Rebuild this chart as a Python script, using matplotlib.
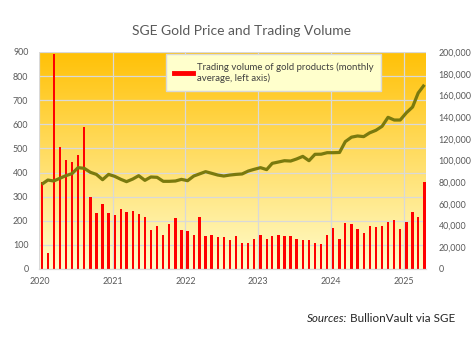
import numpy as np
import pandas as pd
import matplotlib
matplotlib.use('Agg')
import matplotlib.pyplot as plt
import matplotlib.dates as mdates
from matplotlib.colors import LinearSegmentedColormap
from matplotlib.lines import Line2D
from matplotlib.ticker import FuncFormatter

"""SGE gold price and monthly trading volume, 2020 onwards"""

plt.rcParams['font.family'] = ['Lato', 'DejaVu Sans']

# monthly volume of gold products (left axis), Jan 2020 - Apr 2025
volume_2020 = [362, 68, 890, 506, 452, 443, 473, 590, 297, 234, 271, 234]
volume_2021 = [223, 248, 237, 239, 227, 217, 162, 178, 140, 187, 210, 162]
volume_2022 = [158, 141, 214, 136, 140, 131, 131, 120, 138, 109, 109, 126]
volume_2023 = [141, 123, 136, 140, 137, 136, 123, 120, 120, 109, 104, 142]
volume_2024 = [169, 123, 191, 188, 165, 149, 177, 173, 177, 195, 203, 165]
volume_2025 = [195, 237, 214, 362]

# monthly gold price (right axis)
price_2020 = [78000, 82000, 81100, 83600, 86000, 87900, 93400, 92800, 89100, 87200, 82300, 87200]
price_2021 = [85400, 82600, 80500, 82900, 86000, 81700, 84800, 84500, 80800, 80800, 81100, 82600]
price_2022 = [81400, 85700, 87600, 89700, 88200, 86600, 85700, 86600, 87200, 87600, 90300, 91900]
price_2023 = [93400, 91600, 97400, 98600, 99800, 99500, 101400, 103800, 99800, 105700, 105800, 107200]
price_2024 = [107200, 107400, 117400, 121500, 122600, 122000, 125500, 127800, 131500, 139800, 137300, 137300]
price_2025 = [144000, 149300, 162200, 169800]

left_ticks = list(range(0, 1000, 100))
right_ticks = list(range(0, 220000, 20000))

TITLE = 'SGE Gold Price and Trading Volume'
LEGEND_LABEL = 'Trading volume of gold products (monthly\naverage, left axis)'

GREY_TEXT = '#595959'
GRID = '#D9D9D9'


def build_frame() -> pd.DataFrame:
    volume = volume_2020 + volume_2021 + volume_2022 + volume_2023 + volume_2024 + volume_2025
    price = price_2020 + price_2021 + price_2022 + price_2023 + price_2024 + price_2025
    dates = pd.date_range('2020-01-01', periods=len(volume), freq='MS') + pd.Timedelta(days=11)
    return pd.DataFrame({'date': dates, 'volume': volume, 'price': price})


def add_source(fig) -> None:
    # italic "Sources:" sits just left of the plain part
    body = fig.text(0.954, 0.056, 'BullionVault via SGE', ha='right', va='center',
                    fontsize=8.4, color='#262626')
    renderer = fig.canvas.get_renderer()
    left = body.get_window_extent(renderer).x0
    fig.text((left - 3) / fig.bbox.width, 0.056, 'Sources:', ha='right', va='center',
             fontsize=8.4, color='#262626', style='italic')


def plot_data(df: pd.DataFrame) -> None:
    fig = plt.figure(figsize=(4.77, 3.37), dpi=100)
    ax = fig.add_axes([0.0828, 0.2018, 0.8102, 0.6439])
    ax2 = ax.twinx()

    # orange to pale yellow wash behind the plot
    cmap = LinearSegmentedColormap.from_list('wash', ['#FFFCCB', '#FFC107'])
    grad = np.linspace(0, 1, 256).reshape(-1, 1)
    ax.imshow(grad, cmap=cmap, origin='lower', aspect='auto',
              extent=[0, 1, 0, 1], transform=ax.transAxes, zorder=0)

    ax.bar(df['date'], df['volume'], width=11.5, color='#FF0000', zorder=2)
    ax2.plot(df['date'], df['price'], color='#7A7A0E', lw=2.3, solid_capstyle='butt')

    x0, x1 = pd.Timestamp('2020-01-01'), pd.Timestamp('2025-04-20')
    ax.set_xlim(x0, x1)
    ax.set_ylim(0, 900)
    ax2.set_ylim(0, 200000)

    ax.set_yticks(left_ticks)
    ax2.set_yticks(right_ticks)
    ax2.yaxis.set_major_formatter(FuncFormatter(lambda v, p: f'{int(v):,}'))
    ax.xaxis.set_major_locator(mdates.YearLocator())
    ax.xaxis.set_major_formatter(mdates.DateFormatter('%Y'))

    ax.set_axisbelow(True)
    ax.grid(True, color=GRID, lw=0.9)
    for a in (ax, ax2):
        for side in ('left', 'right', 'top'):
            a.spines[side].set_visible(False)
        a.spines['bottom'].set_color(GRID)
        a.tick_params(length=0, labelsize=6.4, labelcolor=GREY_TEXT)
    ax.tick_params(axis='y', pad=8)
    ax.tick_params(axis='x', pad=6)
    ax2.tick_params(axis='y', pad=9)

    fig.text(0.507, 0.908, TITLE, ha='center', va='center', fontsize=10, color=GREY_TEXT)

    handle = Line2D([0], [0], color='#FF0000', lw=3.5)
    ax2.legend([handle], [LEGEND_LABEL], loc='upper left', bbox_to_anchor=(0.347, 0.84),
               bbox_transform=fig.transFigure, fontsize=6.9, frameon=True, fancybox=False,
               facecolor='#FFFFCC', edgecolor=GRID, framealpha=1, borderpad=0.85,
               handlelength=2.0, handletextpad=0.4, borderaxespad=0,
               labelcolor='#404040')

    add_source(fig)
    fig.savefig('out.png', dpi=100)


def main():
    df = build_frame()
    plot_data(df)


if __name__ == '__main__':
    main()
